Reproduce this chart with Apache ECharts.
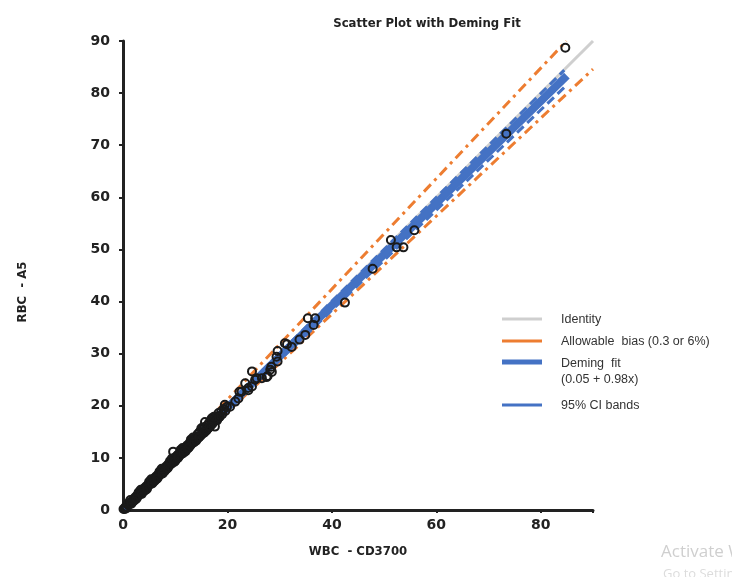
<!DOCTYPE html>
<html>
<head>
<meta charset="utf-8">
<script src="https://cdn.jsdelivr.net/npm/echarts@6/dist/echarts.min.js"></script>
<style>html,body{margin:0;padding:0;background:#fff;}#c{width:732px;height:577px;}</style>
</head>
<body>
<div id="c"></div>
<script>
// WBC - CD3700 (x) values
const wbc = [0.1,0.3,0.5,0.7,0.9,1.1,1.3,1.5,1.7,1.9,2.1,2.3,2.5,2.7,2.9,3.1,3.3,3.5,3.7,3.9,4.1,4.3,4.5,4.7,4.9,5.1,5.3,5.5,5.7,5.9,6.1,6.3,6.5,6.7,6.9,7.1,7.3,7.5,7.7,7.9,8.1,8.3,8.5,8.7,8.9,9.1,9.3,9.6,9.5,9.7,9.9,10.1,10.3,10.5,10.7,10.9,11.1,11.3,11.5,11.7,11.9,12.1,12.3,12.5,12.7,12.9,13.1,13.3,13.5,13.7,13.9,14.1,14.3,14.5,14.7,14.9,15.1,15.3,15.5,15.7,15.9,16.1,16.3,16.5,16.7,16.9,17.1,17.3,17.6,17.7,17.9,18.1,18.3,18.5,18.8,19.0,19.5,19.3,19.6,
  1.0,2.0,3.0,4.0,5.0,6.0,7.0,8.0,9.0,10.0,11.0,12.0,13.0,14.0,15.0,16.0,17.0,18.0,
  1.4,2.4,3.4,4.4,5.4,6.4,7.4,8.4,9.4,10.4,11.4,12.4,13.4,14.4,15.4,16.4,17.4,18.4,
  0.6,1.6,2.6,3.6,4.6,5.6,6.6,7.6,8.6,9.8,10.6,11.6,12.6,13.6,14.6,15.6,16.6,
  20.5,19.9,21.5,22.1,22.3,22.7,23.4,24.0,24.0,24.7,24.7,25.3,25.6,26.6,27.5,27.7,28.2,28.4,28.5,29.4,29.6,29.6,31.0,31.4,32.3,33.8,34.9,35.4,36.5,36.8,42.5,47.8,51.3,52.4,53.7,55.8,73.4,84.7];
// RBC - A5 (y) values
const rbc = [0.2,0.2,0.6,0.6,1.0,1.0,1.4,1.4,1.6,2.0,2.0,2.4,2.3,2.8,2.7,3.2,3.1,3.6,3.5,3.9,4.2,4.1,4.6,4.5,4.9,5.2,5.0,5.6,5.4,6.0,5.8,6.4,6.2,6.8,6.6,7.2,6.9,7.6,7.4,8.0,7.8,8.4,8.1,8.8,8.6,9.2,8.9,11.2,9.5,9.3,10.0,9.7,10.4,10.1,10.8,10.5,11.2,10.8,11.6,11.3,12.0,11.6,12.4,12.0,12.8,12.4,13.2,12.8,13.6,13.2,14.0,13.6,14.6,14.0,15.0,14.3,15.4,14.7,15.6,16.9,15.2,16.2,15.7,16.8,16.1,17.1,16.5,17.5,16.0,17.2,17.9,17.5,18.6,17.9,18.9,18.4,20.2,19.4,19.0,
  1.3,1.7,3.4,3.6,5.4,5.5,7.4,7.5,9.4,9.4,11.5,11.3,13.5,13.3,15.7,15.3,17.6,17.2,
  1.9,2.0,3.9,3.9,5.9,5.9,7.9,7.9,9.9,9.9,11.9,11.8,13.9,13.8,15.9,15.8,17.9,17.8,
  0.3,1.2,2.2,3.1,4.1,5.1,6.1,7.0,8.1,9.2,10.1,11.0,12.0,13.0,14.0,14.9,16.0,
  19.8,19.8,20.8,21.4,22.7,22.7,24.3,23.4,23.0,23.7,26.6,25.0,25.3,25.3,25.5,25.7,26.9,27.5,26.5,29.4,28.5,30.5,32.0,31.8,31.3,32.7,33.6,36.8,35.5,36.8,39.8,46.3,51.8,50.4,50.4,53.7,72.2,88.7];

// Reference lines (endpoints)
const identityX = [0, 90], identityY = [0, 90];
const biasUpperX = [0, 5, 84.9], biasUpperY = [0.3, 5.3, 90];
const biasLowerX = [0, 5, 90], biasLowerY = [-0.3, 4.7, 84.6];
const fitX = [0, 85], fitY = [0.05, 83.35];
const ciUpperX = [0, 84.5], ciUpperY = [0.2, 84.4];
const ciLowerX = [0, 84.5], ciLowerY = [-0.1, 81.1];

const xTicks = [0, 20, 40, 60, 80];
const yTicks = [0, 10, 20, 30, 40, 50, 60, 70, 80, 90];
const legendLabels = ['Identity', 'Allowable  bias (0.3 or 6%)', 'Deming  fit\n(0.05 + 0.98x)', '95% CI bands'];

const zip = (a, b) => a.map((v, i) => [v, b[i]]);
const AXF = 'DejaVu Sans';
const LGF = 'Liberation Sans';
const ORANGE = '#ed7d31', BLUE = '#4472c4', GREY = '#cfcfcf';

const chart = echarts.init(document.getElementById('c'), null, {renderer: 'canvas'});
chart.setOption({
  animation: false,
  backgroundColor: '#fff',
  title: {
    text: 'Scatter Plot with Deming Fit', left: 422, top: 12, textAlign: 'center',
    textStyle: {fontFamily: 'DejaVu Sans Condensed, DejaVu Sans', fontSize: 13, fontWeight: 'bold', color: '#222'}
  },
  grid: {left: 123, right: 139, top: 41, bottom: 67},
  xAxis: {
    type: 'value', min: 0, max: 90, interval: 20,
    name: 'WBC  - CD3700', nameLocation: 'middle', nameGap: 35,
    nameTextStyle: {fontFamily: 'DejaVu Sans Condensed, DejaVu Sans', fontSize: 13, fontWeight: 'bold', color: '#222'},
    axisLine: {lineStyle: {color: '#222', width: 3}},
    axisTick: {show: true, length: 3, lineStyle: {color: '#222', width: 2}},
    splitLine: {show: false},
    axisLabel: {fontFamily: AXF, fontSize: 14, fontWeight: 'bold', color: '#222', margin: 8,
      customValues: xTicks}
  },
  yAxis: {
    type: 'value', min: 0, max: 90, interval: 10,
    axisLine: {show: true, lineStyle: {color: '#222', width: 3}},
    axisTick: {show: true, length: 4, lineStyle: {color: '#222', width: 2}},
    splitLine: {show: false},
    axisLabel: {fontFamily: AXF, fontSize: 14, fontWeight: 'bold', color: '#222', margin: 13,
      customValues: yTicks}
  },
  graphic: [
    {type: 'text', x: 23, y: 292, rotation: Math.PI / 2,
      style: {text: 'RBC  - A5', fontFamily: 'DejaVu Sans Condensed, DejaVu Sans', fontSize: 13, fontWeight: 'bold', fill: '#222',
        align: 'center', verticalAlign: 'middle'}},
    {type: 'group', x: 502, y: 313, children: [
      {type: 'line', shape: {x1: 0, y1: 6, x2: 40, y2: 6}, style: {stroke: GREY, lineWidth: 3}},
      {type: 'text', x: 59, y: 0, style: {text: legendLabels[0], fontFamily: LGF, fontSize: 12.5, fill: '#333'}},
      {type: 'line', shape: {x1: 0, y1: 28, x2: 40, y2: 28}, style: {stroke: ORANGE, lineWidth: 3}},
      {type: 'text', x: 59, y: 22, style: {text: legendLabels[1], fontFamily: LGF, fontSize: 12.5, fill: '#333'}},
      {type: 'line', shape: {x1: 0, y1: 49, x2: 40, y2: 49}, style: {stroke: BLUE, lineWidth: 5}},
      {type: 'text', x: 59, y: 43, style: {text: legendLabels[2], fontFamily: LGF, fontSize: 12.5, fill: '#333', lineHeight: 16}},
      {type: 'line', shape: {x1: 0, y1: 92, x2: 40, y2: 92}, style: {stroke: BLUE, lineWidth: 3}},
      {type: 'text', x: 59, y: 86, style: {text: legendLabels[3], fontFamily: LGF, fontSize: 12.5, fill: '#333'}}
    ]},
    {type: 'text', left: 661, top: 544, style: {text: 'Activate Windows', fontFamily: 'Open Sans', fontSize: 17, fill: '#cfcfcf'}},
    {type: 'text', left: 663, top: 568, style: {text: 'Go to Settings', fontFamily: 'Open Sans', fontSize: 13, fill: '#dcdcdc'}}
  ],
  series: [
    {name: 'Identity', type: 'line', data: zip(identityX, identityY), symbol: 'none', z: 2,
      lineStyle: {color: GREY, width: 3}},
    {name: 'Allowable bias upper', type: 'line', data: zip(biasUpperX, biasUpperY), symbol: 'none', z: 3,
      lineStyle: {color: ORANGE, width: 3, type: [10, 5, 3, 5]}},
    {name: 'Allowable bias lower', type: 'line', data: zip(biasLowerX, biasLowerY), symbol: 'none', z: 3,
      lineStyle: {color: ORANGE, width: 3, type: [10, 5, 3, 5]}},
    {name: 'Deming fit', type: 'line', data: zip(fitX, fitY), symbol: 'none', z: 4,
      lineStyle: {color: BLUE, width: 8}},
    {name: 'CI upper', type: 'line', data: zip(ciUpperX, ciUpperY), symbol: 'none', z: 4,
      lineStyle: {color: BLUE, width: 3, type: [9, 5]}},
    {name: 'CI lower', type: 'line', data: zip(ciLowerX, ciLowerY), symbol: 'none', z: 4,
      lineStyle: {color: BLUE, width: 3, type: [9, 5]}},
    {name: 'Points', type: 'scatter', data: zip(wbc, rbc), symbol: 'circle', symbolSize: 8, z: 5,
      itemStyle: {color: 'rgba(255,255,255,0)', borderColor: '#1a1a1a', borderWidth: 2, opacity: 1}}
  ]
});
</script>
</body>
</html>
